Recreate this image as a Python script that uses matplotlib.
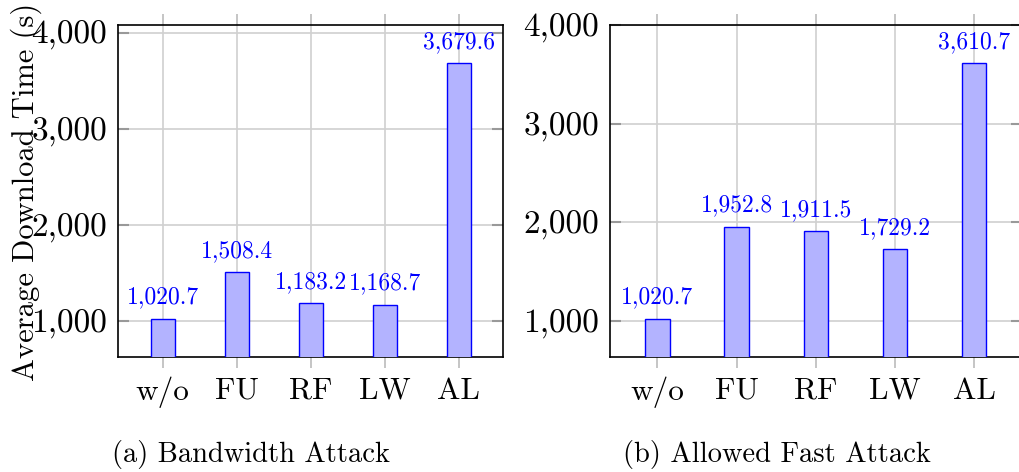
import numpy as np
import matplotlib
matplotlib.use('Agg')
import matplotlib.pyplot as plt
from matplotlib.ticker import FuncFormatter

plt.rcParams['font.family'] = ['cmr10', 'DejaVu Serif']
plt.rcParams['axes.formatter.use_mathtext'] = True

methods = ['w/o', 'FU', 'RF', 'LW', 'AL']
bandwidth_times = [1020.7, 1508.4, 1183.2, 1168.7, 3679.6]
allowed_fast_times = [1020.7, 1952.8, 1911.5, 1729.2, 3610.7]
captions = ['(a) Bandwidth Attack', '(b) Allowed Fast Attack']

W, H = 1019, 472
fig = plt.figure(figsize=(W / 100, H / 100), dpi=100)

# axes boxes in pixels: (left, right, top, bottom)
boxes = [(118.3, 503.3, 25.0, 357.3), (610.0, 1021.5, 25.0, 357.3)]
bar_px = 24.3


def thousands(v, pos):
    return f'{v:,.0f}'


def draw_panel(ax, values, box):
    x = np.arange(len(methods))
    span_px = box[1] - box[0]
    width = bar_px / span_px * 5.2
    ax.bar(x, values, width=width, color='#b3b3ff', edgecolor='#0000ff',
           linewidth=1.0, zorder=3)
    for xi, v in zip(x, values):
        ax.annotate(f'{v:,.1f}', (xi, v), xytext=(0, 11), textcoords='offset points',
                    ha='center', va='baseline', color='#0000ff', fontsize=17,
                    zorder=4, annotation_clip=False)
    lo, hi = min(values), max(values)
    rng = hi - lo
    ax.set_ylim(lo - 0.15 * rng, hi + 0.15 * rng)
    ax.set_xlim(-0.6, len(methods) - 0.4)
    ax.set_xticks(x)
    ax.set_xticklabels(methods, fontsize=22.5)
    ax.set_yticks([1000, 2000, 3000, 4000])
    ax.yaxis.set_major_formatter(FuncFormatter(thousands))
    ax.grid(True, color='#d0d0d0', linewidth=1.2, zorder=0)
    ax.set_axisbelow(True)
    ax.tick_params(axis='x', direction='out', length=8, width=1.2, color='#bbbbbb',
                   top=True, bottom=True, pad=6)
    ax.tick_params(axis='y', direction='in', length=8, width=1.5, color='#999999',
                   left=True, right=True, labelsize=24, pad=8)
    for s in ax.spines.values():
        s.set_linewidth(1.2)
        s.set_color('black')


for i, (vals, box) in enumerate(zip([bandwidth_times, allowed_fast_times], boxes)):
    l, r, t, b = box
    ax = fig.add_axes([l / W, (H - b) / H, (r - l) / W, (b - t) / H])
    draw_panel(ax, vals, box)

fig.text(26 / W, 1 - 192 / H, 'Average Download Time (s)', rotation=90,
         ha='center', va='center', fontsize=22)
fig.text(251 / W, 1 - 461.7 / H, captions[0], ha='center', va='baseline', fontsize=20.5)
fig.text(776.7 / W, 1 - 461.7 / H, captions[1], ha='center', va='baseline', fontsize=20.5)

fig.savefig('out.png', dpi=100)
